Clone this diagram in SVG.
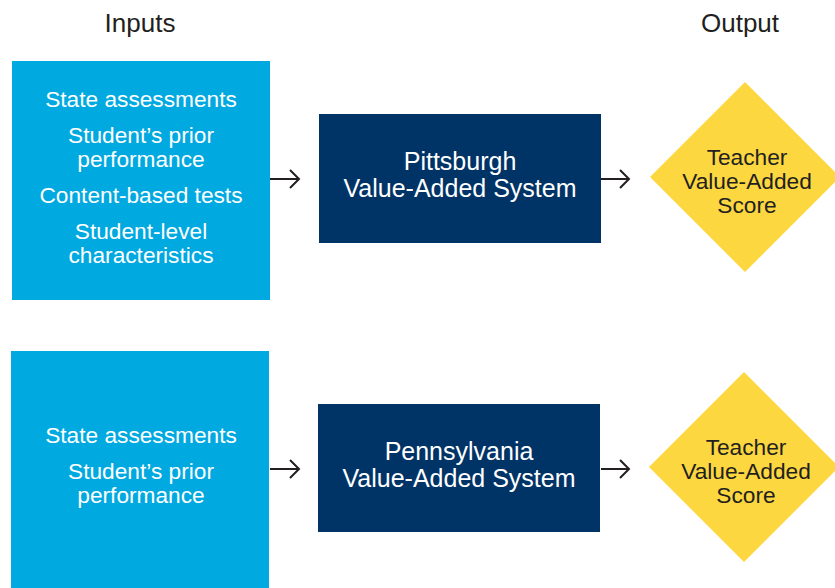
<svg xmlns="http://www.w3.org/2000/svg" width="835" height="588" viewBox="0 0 835 588">
<style>
text{font-family:"Liberation Sans",Arial,sans-serif;text-anchor:middle}
.hd{font-size:26px;fill:#231f20}
.in{fill:#00a9e0}
.sys{fill:#003366}
.dia{fill:#fdd73f}
.wt{font-size:22.7px;fill:#ffffff}
.st{font-size:25px;fill:#ffffff}
.dt{font-size:22.7px;fill:#231f20}
.arr{stroke:#231f20;stroke-width:2;fill:none}
</style>
<rect width="835" height="588" fill="#ffffff"/>
<g id="headers">
<text class="hd" x="140" y="32">Inputs</text>
<text class="hd" x="740" y="32">Output</text>
</g>
<g id="inputs1">
<rect class="in" x="12" y="61" width="258" height="239"/>
<text class="wt" x="141" y="107">State assessments</text>
<text class="wt" x="141" y="143">Student’s prior</text>
<text class="wt" x="141" y="167">performance</text>
<text class="wt" x="141" y="203">Content-based tests</text>
<text class="wt" x="141" y="239">Student-level</text>
<text class="wt" x="141" y="263">characteristics</text>
</g>
<g id="pittsburgh">
<rect class="sys" x="319" y="114" width="282" height="129"/>
<text class="st" x="460" y="170">Pittsburgh</text>
<text class="st" x="460" y="197">Value-Added System</text>
</g>
<g id="score1">
<polygon class="dia" points="745,82 840,177 745,272 650,177"/>
<text class="dt" x="747" y="165">Teacher</text>
<text class="dt" x="747" y="189">Value-Added</text>
<text class="dt" x="747" y="213">Score</text>
</g>
<g id="inputs2">
<rect class="in" x="11" y="351" width="258" height="240"/>
<text class="wt" x="141" y="443">State assessments</text>
<text class="wt" x="141" y="479">Student’s prior</text>
<text class="wt" x="141" y="503">performance</text>
</g>
<g id="pennsylvania">
<rect class="sys" x="318" y="404" width="282" height="128"/>
<text class="st" x="459" y="460">Pennsylvania</text>
<text class="st" x="459" y="487">Value-Added System</text>
</g>
<g id="score2">
<polygon class="dia" points="744,372 839,467 744,562 649,467"/>
<text class="dt" x="746" y="455">Teacher</text>
<text class="dt" x="746" y="479">Value-Added</text>
<text class="dt" x="746" y="503">Score</text>
</g>
<g id="connectors">
<path class="arr" d="M270 179H299M290 170L299 179L290 188"/>
<path class="arr" d="M601 179H629M620 170L629 179L620 188"/>
<path class="arr" d="M270 469H299M290 460L299 469L290 478"/>
<path class="arr" d="M601 469H629M620 460L629 469L620 478"/>
</g>
</svg>
